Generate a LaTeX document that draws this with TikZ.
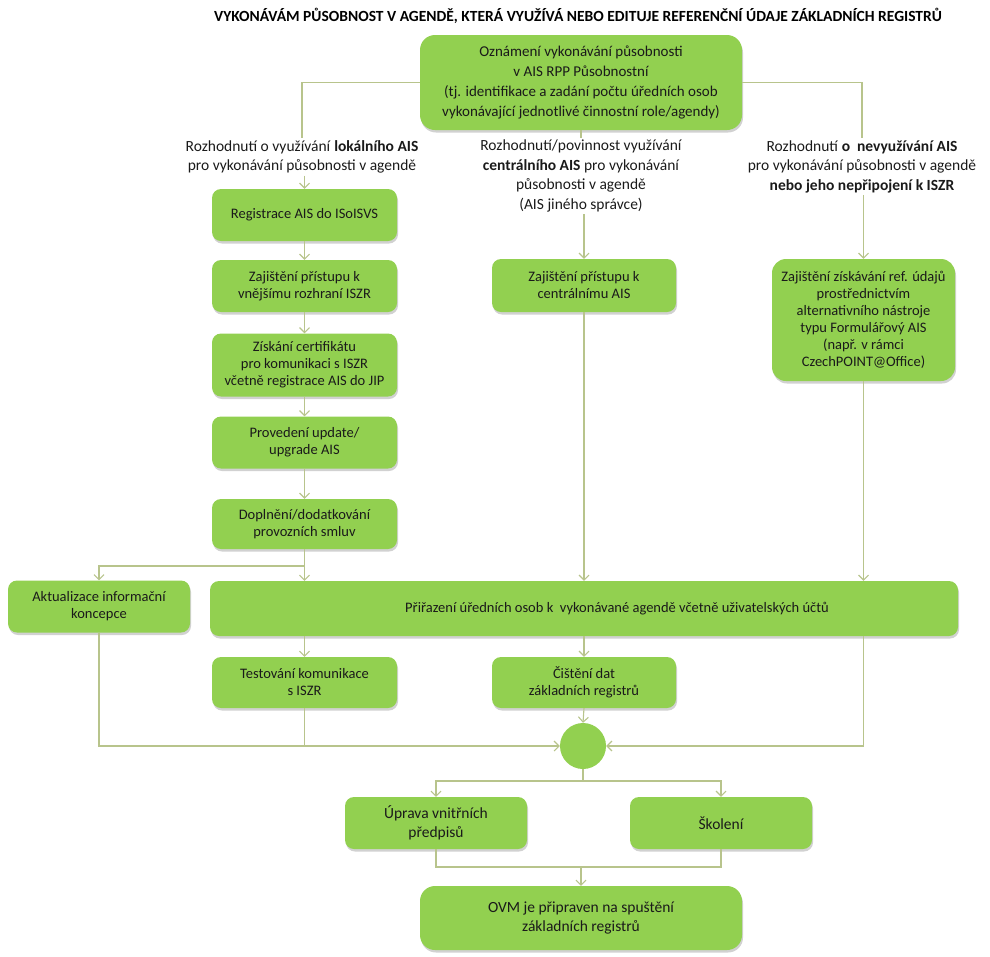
\documentclass[tikz,border=0pt]{standalone}
\usepackage{fontspec}
\setmainfont{Carlito}
\usetikzlibrary{arrows.meta,shadows}
\definecolor{boxg}{HTML}{92D050}
\definecolor{linec}{HTML}{B8C48C}
\definecolor{txt}{HTML}{1A1A1A}
\begin{document}
\begin{tikzpicture}[x=1pt,y=-1pt,
 box/.style={rectangle, rounded corners=9pt, fill=boxg, text=txt, align=center, inner sep=0pt,
   font=\fontsize{14.5}{17}\selectfont,
   drop shadow={shadow xshift=1pt, shadow yshift=-2.5pt, opacity=0.3, fill=black!60}},
 bigbox/.style={box, rounded corners=15pt, font=\fontsize{15}{20}\selectfont},
 lowbox/.style={box, font=\fontsize{15.5}{18.5}\selectfont},
 lbl/.style={align=center, text=txt, font=\fontsize{15.5}{19.5}\selectfont, inner sep=2pt},
 conn/.style={draw=linec, line width=1.1pt},
 arr/.style={conn, -{Straight Barb[length=5pt,width=10pt]}},
]
\useasboundingbox (0,0) rectangle (990,956);

\node[text=black, font=\bfseries\fontsize{15.5}{17}\selectfont] (title) at (578,16)
 {VYKONÁVÁM PŮSOBNOST V AGENDĚ, KTERÁ VYUŽÍVÁ NEBO EDITUJE REFERENČNÍ ÚDAJE ZÁKLADNÍCH REGISTRŮ};

\node[bigbox, minimum width=322pt, minimum height=95pt] (top) at (581,82.5)
 {Oznámení vykonávání působnosti\\ v AIS RPP Působnostní\\ (tj. identifikace a zadání počtu úředních osob\\ vykonávající jednotlivé činnostní role/agendy)};

\node[lbl] (lblL) at (302,157) {Rozhodnutí o využívání \textbf{lokálního AIS}\\ pro vykonávání působnosti v agendě};
\node[lbl] (lblC) at (581,176) {Rozhodnutí/povinnost využívání\\ \textbf{centrálního AIS} pro vykonávání\\ působnosti v agendě\\ (AIS jiného správce)};
\node[lbl] (lblR) at (862,166.5) {Rozhodnutí \textbf{o\ \ nevyužívání AIS}\\ pro vykonávání působnosti v agendě\\ \textbf{nebo jeho nepřipojení k ISZR}};

\node[box, minimum width=185pt, minimum height=52pt] (reg) at (304.5,215) {Registrace AIS do ISoISVS};
\node[box, minimum width=185pt, minimum height=52pt] (zaj) at (304.5,286) {Zajištění přístupu k\\ vnějšímu rozhraní ISZR};
\node[box, minimum width=185pt, minimum height=63pt] (cert) at (304.5,365) {Získání certifikátu\\ pro komunikaci s ISZR\\ včetně registrace AIS do JIP};
\node[box, minimum width=185pt, minimum height=52pt] (upd) at (304.5,442.5) {Provedení update/\\ upgrade AIS};
\node[box, minimum width=185pt, minimum height=50pt] (dopl) at (304.5,524) {Doplnění/dodatkování\\ provozních smluv};

\node[box, minimum width=184pt, minimum height=53pt] (zajC) at (584,285.5) {Zajištění přístupu k\\ centrálnímu AIS};
\node[box, minimum width=183pt, minimum height=122pt, rounded corners=14pt] (alt) at (863.5,320)
 {Zajištění získávání ref. údajů\\ prostřednictvím\\ alternativního nástroje\\ typu Formulářový AIS\\ (např. v rámci\\ CzechPOINT@Office)};

\node[box, minimum width=182pt, minimum height=52pt] (akt) at (99,606.5) {Aktualizace informační\\ koncepce};
\node[box, minimum width=748pt, minimum height=55pt] (prir) at (584,608.5)
 {\hspace*{66pt}Přiřazení úředních osob k\ \ vykonávané agendě včetně uživatelských účtů};

\node[box, minimum width=185pt, minimum height=51pt] (test) at (304.5,682.5) {Testování komunikace\\ s ISZR};
\node[box, minimum width=184pt, minimum height=51pt] (cist) at (584,682.5) {Čištění dat\\ základních registrů};

\node[circle, fill=boxg, minimum size=46pt, inner sep=0pt] (circ) at (583,746) {};

\node[lowbox, minimum width=182pt, minimum height=52pt] (upr) at (436,823) {Úprava vnitřních\\ předpisů};
\node[lowbox, minimum width=182pt, minimum height=52pt] (skol) at (721,823) {Školení};
\node[bigbox, font=\fontsize{15.5}{19}\selectfont, minimum width=322pt, minimum height=64pt] (ovm) at (581,918)
 {OVM je připraven na spuštění\\ základních registrů};

% connectors
\draw[conn] (top.west) -| (lblL.north);
\draw[conn] (top.south) -- (lblC.north);
\draw[conn] (top.east) -| (lblR.north);

\draw[arr] (reg.north |- lblL.south) -- (reg.north);
\draw[arr] (reg) -- (zaj);
\draw[arr] (zaj) -- (cert);
\draw[arr] (cert) -- (upd);
\draw[arr] (upd) -- (dopl);

\draw[arr] (zajC.north |- lblC.south) -- (zajC.north);
\draw[arr] (alt.north |- lblR.south) -- (alt.north);

\coordinate (j1) at (304.5,566);
\draw[conn] (dopl.south) -- (j1);
\draw[arr] (j1) -| (akt.north);
\draw[arr] (j1) -- (prir.north -| j1);
\draw[arr] (zajC.south) -- (prir.north -| zajC.south);
\draw[arr] (alt.south) -- (prir.north -| alt.south);

\draw[arr] (prir.south -| test.north) -- (test.north);
\draw[arr] (prir.south -| cist.north) -- (cist.north);
\draw[arr] (cist.south) -- (circ.north);

\draw[arr] (akt.south) |- (circ.west);
\draw[conn] (test.south) -- (test.south |- circ.west);
\draw[arr] (prir.south -| alt.south) |- (circ.east);

\coordinate (j2) at (583,781);
\draw[conn] (circ.south) -- (j2);
\draw[arr] (j2) -| (upr.north);
\draw[arr] (j2) -| (skol.north);

\coordinate (j3) at (581,867);
\draw[conn] (upr.south) |- (j3);
\draw[conn] (skol.south) |- (j3);
\draw[arr] (j3) -- (ovm.north);
\end{tikzpicture}
\end{document}
